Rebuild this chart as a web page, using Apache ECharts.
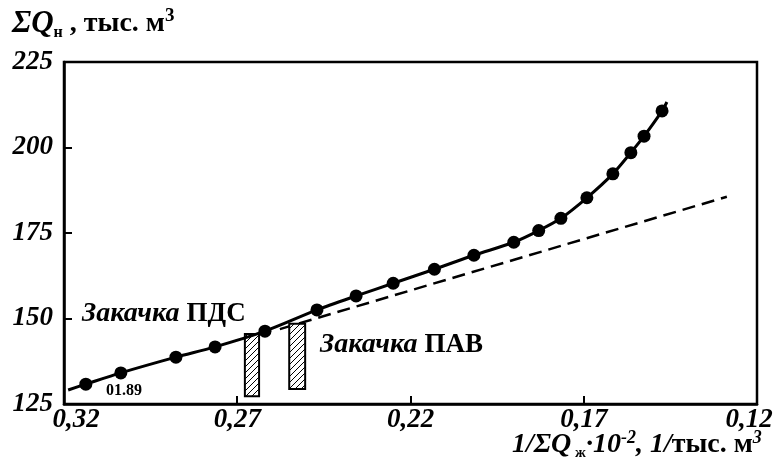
<!DOCTYPE html>
<html><head><meta charset="utf-8">
<script src="https://cdn.jsdelivr.net/npm/echarts@6/dist/echarts.min.js"></script>
<style>html,body{margin:0;padding:0;background:#fff}#c{width:779px;height:470px}</style>
</head><body><div id="c"></div>
<script>
// measured points (x = 1/ΣQж·10^-2, y = ΣQн)
const pointX = [0.3137,0.3036,0.2877,0.2764,0.2620,0.2470,0.2357,0.2250,0.2131,0.2017,0.1902,0.1830,0.1766,0.1691,0.1616,0.1564,0.1526,0.1474];
const pointY = [130.8,134.1,138.7,141.7,146.3,152.5,156.6,160.3,164.4,168.5,172.3,175.7,179.3,185.3,192.3,198.5,203.3,210.7];
// ends of the fitted curve beyond the first and last points
const curveStart = [0.3188, 129.1];
const curveEnd = [0.1460, 213.3];
// extrapolated straight trend (dashed)
const trendX = [0.2577, 0.1287];
const trendY = [146.9, 185.6];
// injection periods (hatched bars): x range and y range
const injX = [[0.2678, 0.2637], [0.2550, 0.2504]];
const injY = [[127.3, 145.5], [129.4, 148.5]];
// axis ticks
const xTicks = [0.12, 0.17, 0.22, 0.27, 0.32];
const xTickLabels = ['0,12', '0,17', '0,22', '0,27', '0,32'];
const yMin = 125, yMax = 225, yStep = 25;

const FONT = "'Liberation Serif', 'DejaVu Serif', serif";

const curveData = [curveStart].concat(pointX.map((x, i) => [x, pointY[i]])).concat([curveEnd]);
const trendData = trendX.map((x, i) => [x, trendY[i]]);
const injData = injX.map((xr, i) => [xr[0], xr[1], injY[i][0], injY[i][1]]);

// hatch pattern
const hc = document.createElement('canvas');
hc.width = 6; hc.height = 6;
const hx = hc.getContext('2d');
hx.fillStyle = '#fff'; hx.fillRect(0, 0, 6, 6);
hx.strokeStyle = '#000'; hx.lineWidth = 1;
hx.beginPath();
hx.moveTo(0, 6); hx.lineTo(6, 0);
hx.moveTo(-1, 1); hx.lineTo(1, -1);
hx.moveTo(5, 7); hx.lineTo(7, 5);
hx.stroke();
const hatch = { image: hc, repeat: 'repeat' };

const labelShift = { '0,32': [0, 0, 0, 24], '0,27': [0, 0, 0, 0], '0,22': [0, 0, 0, 0], '0,17': [0, 0, 0, 0], '0,12': [0, 16, 0, 0] };
const xRich = {};
xTickLabels.forEach((t, i) => {
  xRich['t' + i] = { fontFamily: FONT, fontSize: 27, fontWeight: 'bold', fontStyle: 'italic', color: '#000', padding: labelShift[t] };
});

const chart = echarts.init(document.getElementById('c'), null, { renderer: 'canvas' });
chart.setOption({
  animation: false,
  backgroundColor: '#fff',
  grid: { left: 64, right: 22, top: 62, bottom: 66, show: true, borderColor: '#000', borderWidth: 2.5, backgroundColor: 'transparent' },
  xAxis: {
    type: 'value', min: 0.12, max: 0.32, inverse: true,
    axisLine: { show: true, lineStyle: { color: '#000', width: 2.5 } },
    axisTick: { show: true, inside: true, length: 8, lineStyle: { color: '#000', width: 2 }, customValues: xTicks },
    axisLabel: {
      customValues: xTicks, margin: 3,
      formatter: v => { const i = xTicks.findIndex(t => Math.abs(t - v) < 1e-6); return '{t' + i + '|' + xTickLabels[i] + '}'; },
      rich: xRich
    },
    splitLine: { show: false }
  },
  yAxis: {
    type: 'value', min: yMin, max: yMax, interval: yStep,
    axisLine: { show: true, lineStyle: { color: '#000', width: 2.5 } },
    axisTick: { show: true, inside: true, length: 8, lineStyle: { color: '#000', width: 2 } },
    axisLabel: { margin: 11, color: '#000', fontFamily: FONT, fontSize: 27, fontWeight: 'bold', fontStyle: 'italic' },
    splitLine: { show: false }
  },
  series: [
    {
      type: 'line', data: trendData, showSymbol: false, silent: true,
      lineStyle: { color: '#000', width: 2.5, type: [13, 7] }, z: 2
    },
    {
      type: 'custom', z: 3,
      renderItem: (params, api) => {
        const a = api.coord([api.value(0), api.value(3)]);
        const b = api.coord([api.value(1), api.value(2)]);
        const x = Math.min(a[0], b[0]), y = Math.min(a[1], b[1]);
        return { type: 'rect', shape: { x, y, width: Math.abs(b[0] - a[0]), height: Math.abs(b[1] - a[1]) },
          style: { fill: hatch, stroke: '#000', lineWidth: 2 } };
      },
      data: injData
    },
    {
      type: 'line', data: curveData, showSymbol: false, smooth: 0.3, silent: true,
      lineStyle: { color: '#000', width: 3 }, z: 4
    },
    {
      type: 'scatter', data: pointX.map((x, i) => [x, pointY[i]]), symbol: 'circle', symbolSize: 13,
      itemStyle: { color: '#000', opacity: 1 }, z: 5
    }
  ],
  graphic: [
    { type: 'text', left: 12, top: 7, z: 10, style: {
      text: '{s|ΣQ}{sub|н}{b| , тыс. м}{sup|3}',
      rich: {
        s: { fontFamily: FONT, fontSize: 31, fontWeight: 'bold', fontStyle: 'italic', fill: '#000', lineHeight: 34 },
        sub: { fontFamily: FONT, fontSize: 16, fontWeight: 'bold', fill: '#000', verticalAlign: 'bottom', lineHeight: 14 },
        b: { fontFamily: FONT, fontSize: 28, fontWeight: 'bold', fill: '#000', lineHeight: 34 },
        sup: { fontFamily: FONT, fontSize: 19, fontWeight: 'bold', fill: '#000', verticalAlign: 'top', lineHeight: 26 }
      } } },
    { type: 'text', left: 82, top: 300, z: 10, style: {
      text: '{i|Закачка }{b|ПДС}',
      rich: {
        i: { fontFamily: FONT, fontSize: 28, fontWeight: 'bold', fontStyle: 'italic', fill: '#000' },
        b: { fontFamily: FONT, fontSize: 27, fontWeight: 'bold', fill: '#000' }
      } } },
    { type: 'text', left: 320, top: 331, z: 10, style: {
      text: '{i|Закачка }{b|ПАВ}',
      rich: {
        i: { fontFamily: FONT, fontSize: 28, fontWeight: 'bold', fontStyle: 'italic', fill: '#000' },
        b: { fontFamily: FONT, fontSize: 27, fontWeight: 'bold', fill: '#000' }
      } } },
    { type: 'text', left: 106, top: 383, z: 10, style: {
      text: '01.89', fontFamily: FONT, fontSize: 16, fontWeight: 'bold', fill: '#000' } },
    { type: 'text', left: 512, top: 429, z: 10, style: {
      text: '{i|1/ΣQ}{sub| ж}{i|·10}{sup|-2}{i|, 1/}{b|тыс. м}{sup|3}',
      rich: {
        i: { fontFamily: FONT, fontSize: 28, fontWeight: 'bold', fontStyle: 'italic', fill: '#000', lineHeight: 32 },
        sub: { fontFamily: FONT, fontSize: 15, fontWeight: 'bold', fill: '#000', verticalAlign: 'bottom', lineHeight: 6 },
        b: { fontFamily: FONT, fontSize: 28, fontWeight: 'bold', fill: '#000', lineHeight: 32 },
        sup: { fontFamily: FONT, fontSize: 18, fontWeight: 'bold', fontStyle: 'italic', fill: '#000', verticalAlign: 'top', lineHeight: 22 }
      } } }
  ]
});
</script>
</body></html>
